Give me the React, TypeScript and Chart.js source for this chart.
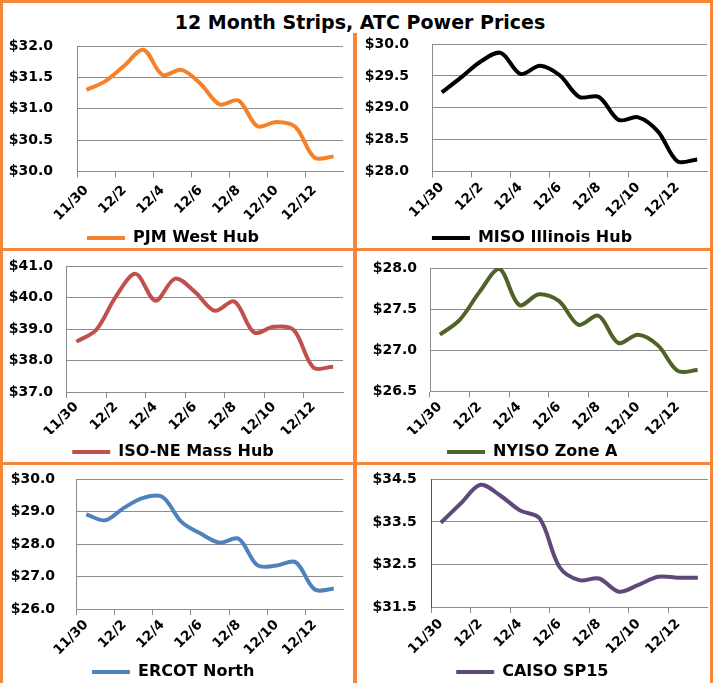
import React, { useEffect, useRef } from 'react';
import { Chart, registerables } from 'chart.js';

Chart.register(...registerables);

// ---------- data ----------
const categories = ['11/30', '12/1', '12/2', '12/3', '12/4', '12/5', '12/6', '12/7', '12/8', '12/9', '12/10', '12/11', '12/12', '12/13'];

const pjmWestHub = [31.30, 31.44, 31.69, 31.94, 31.54, 31.62, 31.40, 31.07, 31.13, 30.72, 30.79, 30.71, 30.22, 30.24];
const misoIllinoisHub = [29.24, 29.48, 29.73, 29.86, 29.53, 29.66, 29.51, 29.17, 29.17, 28.81, 28.85, 28.63, 28.16, 28.19];
const isoNeMassHub = [38.60, 38.97, 40.03, 40.75, 39.90, 40.60, 40.18, 39.58, 39.87, 38.89, 39.07, 38.97, 37.78, 37.80];
const nyisoZoneA = [27.19, 27.37, 27.71, 27.99, 27.55, 27.68, 27.60, 27.31, 27.42, 27.09, 27.19, 27.06, 26.75, 26.76];
const ercotNorth = [28.91, 28.73, 29.12, 29.42, 29.45, 28.68, 28.32, 28.04, 28.16, 27.34, 27.34, 27.44, 26.60, 26.62];
const caisoSp15 = [33.48, 33.93, 34.37, 34.12, 33.77, 33.58, 32.44, 32.13, 32.17, 31.86, 32.02, 32.21, 32.19, 32.19];

const pjmTicks = [30.0, 30.5, 31.0, 31.5, 32.0];
const misoTicks = [28.0, 28.5, 29.0, 29.5, 30.0];
const isoNeTicks = [37.0, 38.0, 39.0, 40.0, 41.0];
const nyisoTicks = [26.5, 27.0, 27.5, 28.0];
const ercotTicks = [26.0, 27.0, 28.0, 29.0, 30.0];
const caisoTicks = [31.5, 32.5, 33.5, 34.5];

const titleText = '12 Month Strips, ATC Power Prices';

// ---------- styles ----------
const FONT = "'DejaVu Sans', 'Liberation Sans', Arial, sans-serif";
const GRID = '#8c8c8c';
const FRAME = '#F7863A';

type Panel = {
  name: string;
  data: number[];
  ticks: number[];
  color: string;
  left: number; top: number; width: number; height: number;
  padTop: number; padRight: number;
  yWidth: number; yPad: number; xHeight: number; xPad: number;
  yBorder?: string;
};

const panels: Panel[] = [
  { name: 'PJM West Hub', data: pjmWestHub, ticks: pjmTicks, color: '#F5822A',
    left: 3, top: 33, width: 350, height: 223, padTop: 13, padRight: 10, yWidth: 74, yPad: 24, xHeight: 48.5, xPad: 5 },
  { name: 'MISO Illinois Hub', data: misoIllinoisHub, ticks: misoTicks, color: '#000000',
    left: 357, top: 33, width: 353, height: 223, padTop: 11, padRight: 3, yWidth: 75, yPad: 23, xHeight: 48.5, xPad: 2 },
  { name: 'ISO-NE Mass Hub', data: isoNeMassHub, ticks: isoNeTicks, color: '#C0504D',
    left: 3, top: 251, width: 350, height: 219, padTop: 15, padRight: 10, yWidth: 63.5, yPad: 13.5, xHeight: 42, xPad: 1 },
  { name: 'NYISO Zone A', data: nyisoZoneA, ticks: nyisoTicks, color: '#4F6228',
    left: 357, top: 251, width: 353, height: 219, padTop: 17, padRight: 2.5, yWidth: 73, yPad: 13, xHeight: 42.5, xPad: 1.5 },
  { name: 'ERCOT North', data: ercotNorth, ticks: ercotTicks, color: '#4F81BD',
    left: 3, top: 465, width: 350, height: 225, padTop: 14, padRight: 9.7, yWidth: 73.7, yPad: 21.7, xHeight: 45, xPad: 2 },
  { name: 'CAISO SP15', data: caisoSp15, ticks: caisoTicks, color: '#5F497A',
    left: 357, top: 465, width: 353, height: 225, padTop: 14.3, padRight: 2.3, yWidth: 74, yPad: 14.3, xHeight: 47, xPad: 3, yBorder: '#5F497A' },
];

function MiniChart({ p }: { p: Panel }) {
  const ref = useRef<HTMLCanvasElement | null>(null);
  useEffect(() => {
    if (!ref.current) return;
    const chart = new Chart(ref.current, {
      type: 'line',
      data: {
        labels: categories,
        datasets: [{
          label: p.name,
          data: p.data,
          borderColor: p.color,
          backgroundColor: p.color,
          borderWidth: 4,
          pointRadius: 0,
          pointHoverRadius: 0,
          tension: 0.33,
          fill: false,
        }],
      },
      options: {
        animation: false,
        responsive: false,
        maintainAspectRatio: false,
        events: [],
        layout: { padding: { top: p.padTop, right: p.padRight, left: 0, bottom: 0 } },
        plugins: {
          legend: {
            display: true,
            position: 'bottom',
            labels: {
              usePointStyle: true,
              pointStyle: 'line',
              pointStyleWidth: 38,
              padding: 10,
              color: '#000',
              font: { family: FONT, size: 16, weight: 'bold' },
            },
          },
          tooltip: { enabled: false },
          title: { display: false },
        },
        scales: {
          x: {
            type: 'category',
            offset: true,
            grid: {
              drawOnChartArea: false,
              drawTicks: true,
              tickLength: 6,
              offset: true,
              color: (ctx: any) => (ctx.index % 2 === 0 ? GRID : 'rgba(0,0,0,0)'),
            },
            border: { display: true, color: GRID, width: 1 },
            ticks: {
              autoSkip: false,
              maxRotation: 45,
              minRotation: 45,
              padding: p.xPad,
              color: '#000',
              font: { family: FONT, size: 13.5, weight: 'bold' },
              callback: (_v: any, i: number) => (i % 2 === 0 ? categories[i] : ''),
            },
            afterFit: (s: any) => { s.height = p.xHeight; s.paddingLeft = 0; s.paddingRight = 0; },
          },
          y: {
            type: 'linear',
            min: p.ticks[0],
            max: p.ticks[p.ticks.length - 1],
            afterBuildTicks: (s: any) => { s.ticks = p.ticks.map((v) => ({ value: v })); },
            grid: { color: GRID, drawTicks: false, lineWidth: 1 },
            border: { display: true, color: p.yBorder || GRID, width: 1 },
            ticks: {
              padding: p.yPad,
              color: '#000',
              font: { family: FONT, size: 14, weight: 'bold' },
              callback: (v: any) => '$' + Number(v).toFixed(1),
            },
            afterFit: (s: any) => { s.width = p.yWidth; s.paddingTop = 0; s.paddingBottom = 0; },
          },
        },
      } as any,
    });
    return () => chart.destroy();
  }, [p]);
  return (
    <canvas
      ref={ref}
      width={p.width}
      height={p.height}
      style={{ position: 'absolute', left: p.left, top: p.top, width: p.width, height: p.height }}
    />
  );
}

export default function App() {
  const line = (l: number, t: number, w: number, h: number) => (
    <div style={{ position: 'absolute', left: l, top: t, width: w, height: h, background: FRAME, zIndex: 5 }} />
  );
  return (
    <div style={{ position: 'absolute', left: 0, top: 0, width: 713, height: 683, overflow: 'hidden', background: '#fff' }}>
      <div
        style={{
          position: 'absolute', left: 0, top: 10.7, width: 720, textAlign: 'center',
          font: `bold 19px ${FONT}`, lineHeight: '22px', color: '#000', whiteSpace: 'nowrap', zIndex: 6,
        }}
      >
        {titleText}
      </div>
      {panels.map((p) => <MiniChart key={p.name} p={p} />)}
      {line(0, 0, 713, 3)}
      {line(0, 0, 3, 683)}
      {line(710, 0, 3, 683)}
      {line(353, 33, 4, 650)}
      {line(0, 248, 713, 3)}
      {line(0, 462, 713, 3)}
    </div>
  );
}
